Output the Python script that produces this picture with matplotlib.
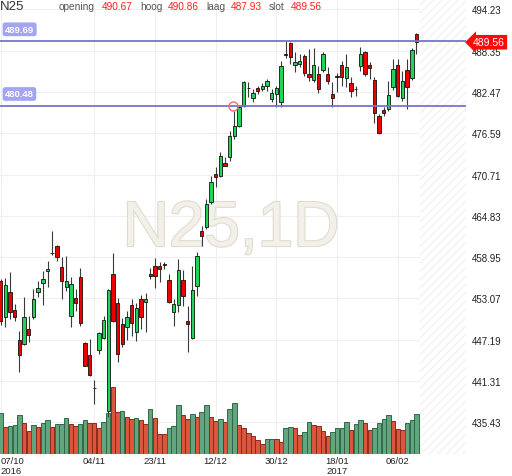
import matplotlib
matplotlib.use('Agg')
import matplotlib.pyplot as plt
import matplotlib.patheffects as pe
from matplotlib.transforms import blended_transform_factory

# ---------------- data ----------------
symbol = 'N25'
header = [('opening', 490.67), ('hoog', 490.86), ('laag', 487.93), ('slot', 489.56)]

opens = [455.50, 450.47, 453.93, 451.47, 447.14, 446.57, 448.71, 450.37, 453.93, 455.22,
         456.93, 459.50, 460.49, 457.59, 454.74, 450.51, 453.08, 456.07, 446.72, 445.01,
         440.28, 445.77, 447.43, 437.00, 456.55, 452.37, 449.42, 449.04, 452.18, 448.33,
         452.98, 452.51, 456.55, 457.64, 457.64, 457.88, 455.74, 451.08, 452.18, 455.74,
         449.90, 447.38, 454.88, 462.72, 463.19, 466.75, 470.79, 470.55, 472.36, 473.17,
         476.25, 477.58, 480.52, 482.99, 481.57, 482.99, 482.90, 483.28, 481.47, 482.19,
         481.00, 487.80, 489.40, 486.32, 486.46, 487.55, 485.03, 484.22, 485.03, 485.60,
         485.03, 482.18, 484.67, 486.36, 484.46, 483.70, 482.90, 486.22, 488.12, 486.32,
         484.18, 479.10, 479.95, 480.05, 483.23, 486.36, 481.57, 485.60, 484.46, 490.67]
highs = [455.90, 456.00, 456.78, 452.27, 448.47, 453.22, 450.61, 454.41, 455.60, 457.02,
         458.44, 462.72, 460.68, 458.92, 459.06, 456.07, 454.41, 457.35, 446.91, 447.29,
         441.49, 448.24, 450.61, 454.40, 459.49, 453.08, 450.28, 451.32, 452.98, 452.41,
         453.55, 453.84, 457.40, 458.78, 458.21, 458.30, 456.55, 452.98, 458.68, 457.16,
         452.03, 457.73, 459.63, 463.43, 467.23, 470.46, 471.74, 473.88, 473.17, 476.96,
         479.81, 480.52, 484.08, 483.94, 482.90, 483.37, 483.75, 484.32, 482.90, 483.37,
         486.93, 489.68, 489.60, 488.12, 487.88, 487.88, 488.59, 488.74, 486.22, 488.12,
         485.98, 483.85, 485.13, 486.93, 487.88, 484.65, 483.37, 488.83, 488.36, 486.69,
         484.56, 479.33, 480.28, 484.08, 487.17, 487.17, 485.51, 487.17, 488.74, 490.86]
lows = [449.30, 449.00, 450.13, 449.90, 442.54, 446.43, 446.81, 450.13, 453.32, 452.13,
        454.74, 459.25, 458.35, 452.98, 454.17, 449.04, 451.32, 449.09, 443.39, 442.06,
        438.03, 445.15, 447.29, 436.17, 449.66, 443.96, 446.10, 447.19, 447.76, 447.05,
        448.71, 448.24, 455.83, 454.50, 455.36, 457.26, 452.41, 449.19, 451.08, 452.03,
        445.39, 447.29, 453.46, 460.49, 462.95, 466.52, 468.89, 470.32, 471.88, 472.69,
        475.78, 477.44, 480.29, 481.71, 481.00, 482.19, 482.66, 482.66, 481.00, 480.29,
        480.29, 487.31, 486.46, 485.27, 485.98, 484.79, 484.08, 483.85, 482.28, 485.27,
        483.61, 480.38, 482.42, 483.37, 483.13, 481.80, 481.95, 485.51, 484.79, 484.32,
        478.00, 476.49, 479.10, 479.81, 482.76, 481.71, 481.23, 480.05, 484.22, 487.93]
closes = [449.90, 455.03, 451.08, 450.47, 445.01, 450.37, 447.86, 452.98, 454.55, 455.83,
          457.26, 459.58, 459.01, 455.60, 455.50, 455.12, 452.37, 449.52, 443.49, 442.16,
          440.25, 448.09, 450.00, 454.27, 449.90, 445.15, 446.57, 450.37, 449.52, 451.65,
          450.47, 452.94, 456.21, 456.21, 457.26, 457.86, 452.51, 452.27, 457.12, 453.46,
          449.42, 454.31, 459.06, 461.95, 466.52, 469.60, 470.32, 473.40, 471.98, 476.25,
          477.58, 480.29, 483.85, 483.05, 482.33, 482.61, 483.37, 484.08, 482.28, 482.99,
          486.22, 487.76, 487.41, 486.70, 486.84, 485.17, 484.56, 486.36, 482.90, 487.88,
          483.99, 481.61, 484.63, 484.56, 485.98, 482.56, 482.87, 487.88, 485.03, 485.84,
          479.43, 476.58, 479.48, 482.04, 485.75, 481.94, 484.08, 483.23, 488.45, 489.56]
volumes = [122, 82, 84, 86, 117, 92, 69, 87, 81, 93,
           101, 81, 89, 89, 107, 89, 84, 90, 101, 94,
           93, 77, 97, 122, 202, 126, 130, 112, 105, 107,
           102, 90, 134, 109, 60, 60, 77, 84, 147, 117,
           104, 120, 110, 127, 147, 110, 100, 104, 97, 134,
           152, 87, 77, 64, 54, 42, 30, 44, 46, 44,
           36, 79, 81, 79, 57, 66, 95, 87, 85, 70,
           54, 66, 79, 79, 97, 72, 90, 101, 94, 72,
           79, 92, 104, 117, 100, 75, 72, 94, 101, 119]
volume_dir = list("GRGGGRRGRG" "GRGGGRRGGR" "RRGGRRGRRG" "RRGRRRGGGR" "RGRGGRRGRG"
                  "GRRRRRRGGR" "RGGRRGGRRR" "RGGGGRGGRR" "GGGGRRRGGG")
tick_pos = [0, 20, 33, 46, 59, 72, 85]
tick_labels = ['07/10\n2016', '04/11', '23/11', '12/12', '30/12', '18/01\n2017', '06/02']
price_ticks = [494.23, 488.35, 482.47, 476.59, 470.71, 464.83, 458.95, 453.07, 447.19, 441.31, 435.43]
levels = [489.69, 480.48]
marker_point = (49.7, 480.48)
last_close = closes[-1]

# ---------------- figure ----------------
plt.rcParams['hatch.linewidth'] = 0.7
W, H = 512, 477
fig = plt.figure(figsize=(W / 100, H / 100), dpi=100)
fig.patch.set_facecolor('white')
rect = [0, 22 / H, 466 / W, 455 / H]
axv = fig.add_axes(rect)
ax = fig.add_axes(rect)
ax.patch.set_alpha(0)

n = len(closes)
xlim = (-0.17, 99.6)
for a in (ax, axv):
    a.set_xlim(*xlim)
    for s in a.spines.values():
        s.set_visible(False)
ax.set_ylim(430.90, 495.72)
axv.set_ylim(0, 1365)
axv.set_yticks([])
axv.set_xticks([])

# grid (drawn in the bottom axes)
gt = blended_transform_factory(axv.transAxes, ax.transData)
for p in price_ticks:
    axv.plot([0, 1], [p, p], transform=gt, color='#efefef', lw=0.8, zorder=0)
for t in tick_pos:
    axv.axvline(t, color='#efefef', lw=0.8, zorder=0)

# hatched future zone
axv.axvspan(n - 0.3, xlim[1], facecolor='white', edgecolor='#ededed', hatch='////', lw=0, zorder=0.5)

# watermark
axv.text(231 / W, 1 - 247 / H, 'N25,1D', transform=fig.transFigure, ha='center', va='baseline',
         fontsize=46, family='Liberation Sans', color='#f2f0e8', zorder=0.6,
         path_effects=[pe.Stroke(linewidth=1.6, foreground='#e0dbcc'), pe.Normal()])

# volume bars
vcol = {'G': '#62a57f', 'R': '#dc563d'}
vedge = {'G': '#2f6848', 'R': '#8c2a1a'}
for i in range(n):
    axv.bar(i, volumes[i], width=0.96, color=vcol[volume_dir[i]], edgecolor=vedge[volume_dir[i]],
            lw=0.7, zorder=1)

# candles
for i in range(n):
    o, h, l, c = opens[i], highs[i], lows[i], closes[i]
    ax.vlines(i, l, h, color='#3a3a3a', lw=0.8, zorder=2)
    up = c >= o
    col = '#22d35a' if up else '#ee0000'
    body = max(abs(c - o), 0.06)
    ax.bar(i, body, bottom=min(o, c), width=0.72, color=col, edgecolor='#111111', lw=0.6, zorder=3)

# support / resistance levels
for lv in levels:
    ax.axhline(lv, color='#7474d2', lw=1.3, zorder=4)
    ax.annotate(f'{lv:.2f}', xy=(0, lv), xycoords=('axes fraction', 'data'),
                xytext=(5, 12), textcoords='offset pixels', ha='left', va='center',
                fontsize=6.8, family='Liberation Sans', color='white', fontweight='bold',
                bbox=dict(boxstyle='round,pad=0.25', fc='#a4a4f4', ec='none'), zorder=5)

ax.plot([marker_point[0]], [marker_point[1]], marker='o', ms=6.5, mfc='none', mec='#ff6a6a',
        mew=1.0, zorder=5)

# axes ticks
ax.yaxis.tick_right()
ax.set_yticks(price_ticks)
ax.set_yticklabels([f'{p:.2f}' for p in price_ticks])
ax.tick_params(axis='y', length=0, pad=4, labelsize=7, labelcolor='#222222')
ax.set_xticks(tick_pos)
ax.set_xticklabels(tick_labels)
ax.tick_params(axis='x', length=0, pad=1.5, labelsize=6.8, labelcolor='#222222')
for lab in ax.get_yticklabels() + ax.get_xticklabels():
    lab.set_family('Liberation Sans')
first = ax.get_xticklabels()[0]
first.set_ha('left')
first.set_x(-0.17)

# last close label
ax.annotate(f'{last_close:.2f}', xy=(1, last_close), xycoords=('axes fraction', 'data'),
            xytext=(7, 0), textcoords='offset pixels', ha='left', va='center',
            fontsize=7.5, family='Liberation Sans', color='white',
            bbox=dict(boxstyle='larrow,pad=0.22', fc='#ff0a0a', ec='none'),
            annotation_clip=False, zorder=6)

# header
fig.text(0 / W, 1 - 7 / H, symbol, ha='left', va='center', fontsize=9.5,
         family='Liberation Sans', color='#333333')
xs = [59, 140, 206, 269]
for (lbl, val), x0 in zip(header, xs):
    fig.text(x0 / W, 1 - 7 / H, lbl, ha='left', va='center', fontsize=7.3,
             family='Liberation Sans', color='#555555')
hx = [102, 168, 231, 291]
for (lbl, val), x0 in zip(header, hx):
    fig.text(x0 / W, 1 - 6.5 / H, f'{val:.2f}', ha='left', va='center', fontsize=7.3,
             family='Liberation Sans', color='#ff2020')

fig.savefig('out.png', dpi=100, facecolor='white')
